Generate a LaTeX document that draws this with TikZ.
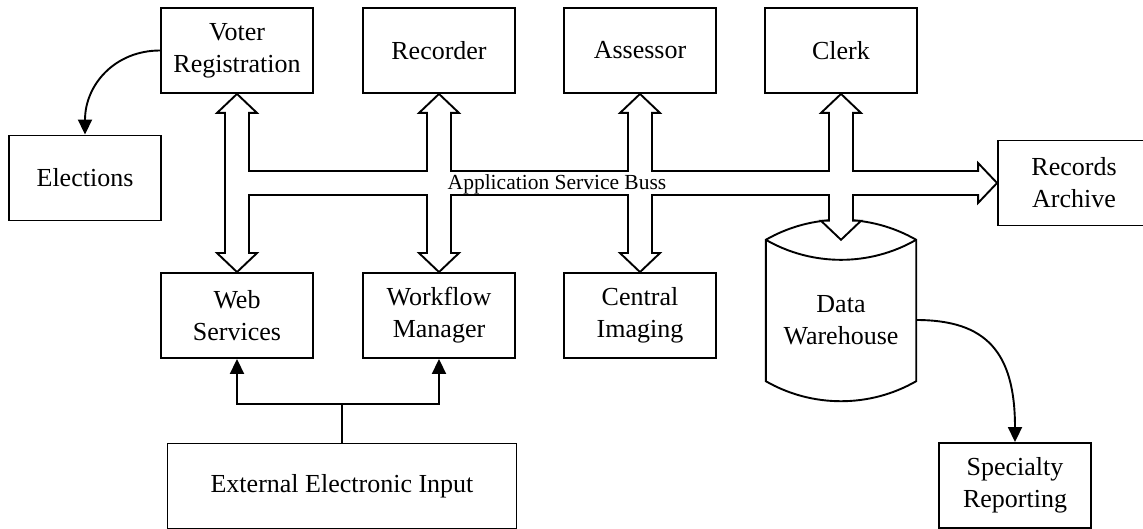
\documentclass[tikz,border=0pt]{standalone}
\usepackage{fontspec}
\setmainfont{Liberation Serif}
\usetikzlibrary{arrows.meta,calc}
\begin{document}
\begin{tikzpicture}[x=1pt,y=-1pt,
  lw/.style={line width=1.9pt},
  box/.style={draw,lw,minimum width=152pt,minimum height=85pt,align=center,inner sep=0pt,font=\fontsize{26}{32}\selectfont},
  cylbox/.style={minimum width=150pt,minimum height=160pt,align=center,inner sep=0pt,font=\fontsize{26}{32}\selectfont},
  arr/.style={lw,-{Triangle[length=15pt,width=14pt]}},
  bus/.style={draw,fill=white,lw,line join=miter},
  cyl/.style={draw,fill=white,lw},
  buslabel/.style={font=\fontsize{21.5}{26}\selectfont,inner sep=0pt}]
\useasboundingbox (0,0) rectangle (1143,529);
\def\bw{12}\def\bh{20}\def\bl{19}
% nodes
\node[box] (vr)  at (237,50.5) {Voter\\Registration};
\node[box] (rec) at (439,50.5) {Recorder};
\node[box] (ass) at (640,50.5) {Assessor};
\node[box] (clk) at (841,50.5) {Clerk};
\node[box] (el)  at (85,178) {Elections};
\node[box] (web) at (237,315.5) {Web\\Services};
\node[box] (wf)  at (439,315.5) {Workflow\\Manager};
\node[box] (ci)  at (640,315.5) {Central\\Imaging};
\node[box] (ra)  at (1074,183) {Records\\Archive};
\node[box,minimum width=349pt] (eei) at (342,486) {External Electronic Input};
\node[box] (sr)  at (1015,485.5) {Specialty\\Reporting};
% cylinder
\node[cylbox] (dw) at (841,320) {};
\draw[cyl] (dw.north west) -- ($(dw.south west)+(0,-19)$)
  .. controls +(46.5,26.7) and +(-46.5,26.7) .. ($(dw.south east)+(0,-19)$)
  -- (dw.north east)
  .. controls +(-46.5,-26.7) and +(46.5,-26.7) .. (dw.north west) -- cycle;
\draw[lw] (dw.north west) .. controls +(46.5,26.7) and +(-46.5,26.7) .. (dw.north east);
\node[cylbox] (dwtext) at (dw.center) {Data\\Warehouse};
% bus coordinates
\coordinate (busT) at (0,171);
\coordinate (busB) at (0,195);
% application service bus
\draw[bus]
  (vr.south) -- ++(\bh,\bl) -- ++(\bw-\bh,0) |- ($(rec.south |- busT)+(-\bw,0)$)
  -- ($(rec.south)+(-\bw,\bl)$) -- ++(\bw-\bh,0) -- (rec.south) -- ++(\bh,\bl) -- ++(\bw-\bh,0)
  |- ($(ass.south |- busT)+(-\bw,0)$)
  -- ($(ass.south)+(-\bw,\bl)$) -- ++(\bw-\bh,0) -- (ass.south) -- ++(\bh,\bl) -- ++(\bw-\bh,0)
  |- ($(clk.south |- busT)+(-\bw,0)$)
  -- ($(clk.south)+(-\bw,\bl)$) -- ++(\bw-\bh,0) -- (clk.south) -- ++(\bh,\bl) -- ++(\bw-\bh,0)
  |- ($(ra.west |- busT)+(-\bl,0)$)
  -- ++(0,\bw-\bh) -- (ra.west) -- ++(-\bl,\bh) -- ++(0,\bw-\bh)
  -| ($(dw.north)+(\bw,-\bl)$) -- ++(\bh-\bw,0) -- (dw.north) -- ++(-\bh,-\bl) -- ++(\bh-\bw,0)
  |- ($(ci.north |- busB)+(\bw,0)$)
  -- ($(ci.north)+(\bw,-\bl)$) -- ++(\bh-\bw,0) -- (ci.north) -- ++(-\bh,-\bl) -- ++(\bh-\bw,0)
  |- ($(wf.north |- busB)+(\bw,0)$)
  -- ($(wf.north)+(\bw,-\bl)$) -- ++(\bh-\bw,0) -- (wf.north) -- ++(-\bh,-\bl) -- ++(\bh-\bw,0)
  |- ($(web.north |- busB)+(\bw,0)$)
  -- ($(web.north)+(\bw,-\bl)$) -- ++(\bh-\bw,0) -- (web.north) -- ++(-\bh,-\bl) -- ++(\bh-\bw,0)
  -- ($(vr.south)+(-\bw,\bl)$) -- ++(\bw-\bh,0) -- cycle;
\node[buslabel,anchor=base] (bl) at (557,190) {Application Service Buss};
% thin connectors
\draw[arr] (vr.west) .. controls +(-45,0) and +(0,-50) .. (el.north);
\draw[arr] (dw.east) .. controls +(70,0) and +(0,-90) .. (sr.north);
\coordinate (split) at ($(eei.north)+(0,-39)$);
\draw[lw] (eei.north) -- (split);
\draw[arr] (split) -| (web.south);
\draw[arr] (split) -| (wf.south);
\end{tikzpicture}
\end{document}
